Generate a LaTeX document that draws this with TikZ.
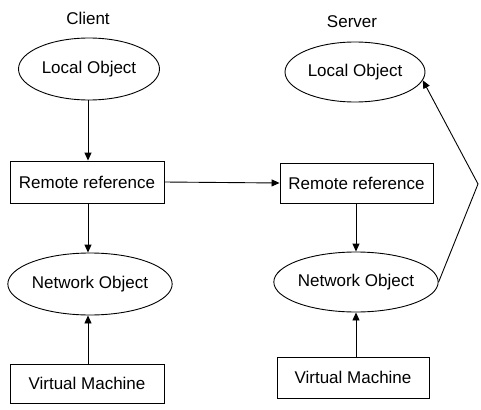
\documentclass[tikz,border=0pt]{standalone}
\usepackage{fontspec}
\setmainfont{Liberation Sans}
\usetikzlibrary{shapes.geometric,arrows.meta}
\begin{document}
\begin{tikzpicture}[x=1pt,y=-1pt,
  every node/.style={font=\fontsize{17}{20}\selectfont},
  obj/.style={draw,ellipse,line width=0.9pt,inner sep=0pt,minimum width=141pt,minimum height=62pt},
  boxnode/.style={draw,rectangle,line width=0.9pt,inner sep=0pt},
  conn/.style={line width=0.9pt,-{Triangle[length=8pt,width=7pt]}},
  lbl/.style={inner sep=0pt}]
\useasboundingbox (0,0) rectangle (481,409);
% client
\node[lbl] (client) at (88,18) {Client};
\node[obj] (lo1) at (89,69) {Local Object};
\node[boxnode,minimum width=154pt,minimum height=42pt] (rr1) at (87,182) {Remote reference};
\node[obj] (no1) at (90,284) {Network Object};
\node[boxnode,minimum width=154pt,minimum height=39pt] (vm1) at (87,383.5) {Virtual Machine};
% server
\node[lbl] (server) at (352,22) {Server};
\node[obj,minimum width=140pt,minimum height=60pt] (lo2) at (355,72) {Local Object};
\node[boxnode,minimum width=153pt,minimum height=40pt] (rr2) at (356.5,183) {Remote reference};
\node[obj,minimum width=140pt,minimum height=60pt] (no2) at (356,282) {Network Object};
\node[boxnode,minimum width=152pt,minimum height=41pt] (vm2) at (353,377.5) {Virtual Machine};
\coordinate (turn) at (478,184);
% connectors
\draw[conn] (lo1.south -| 88,0) -- (rr1.north -| 88,0);
\draw[conn] (rr1.south -| 88,0) -- (no1.north -| 88,0);
\draw[conn] (rr1.east) -- (rr2.west);
\draw[conn] (rr2.south -| 356,0) -- (no2.north);
\draw[conn] (vm2.north -| 356,0) -- (no2.south);
\draw[conn] (no2.east) -- (turn) -- (lo2.-7);
\draw[conn] (vm1.north -| 88,0) -- (no1.south -| 88,0);
\end{tikzpicture}
\end{document}
